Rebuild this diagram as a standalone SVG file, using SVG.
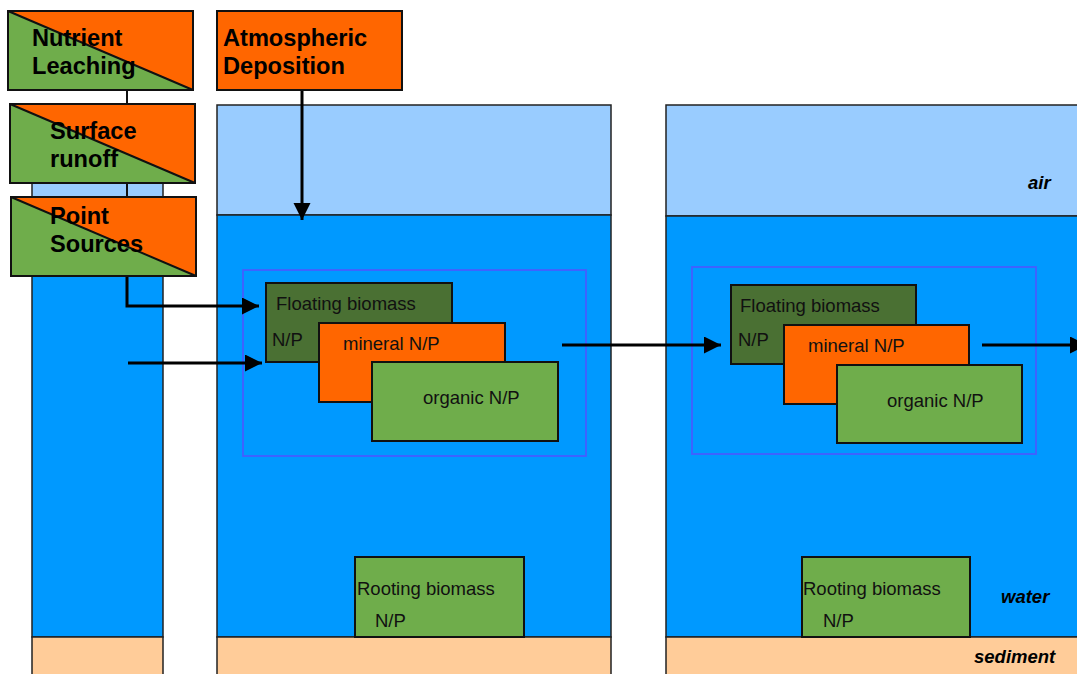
<svg xmlns="http://www.w3.org/2000/svg" width="1077" height="674" viewBox="0 0 1077 674">
<defs>
<style>
.air{fill:#99ccff;stroke:#222;stroke-width:1.5}
.water{fill:#0099ff;stroke:#222;stroke-width:1.5}
.sed{fill:#ffcc99;stroke:#222;stroke-width:1.5}
.inner{fill:none;stroke:#3d63ff;stroke-width:2}
.box{stroke:#111;stroke-width:2}
.dg{fill:#4a7033}
.or{fill:#ff6600}
.gr{fill:#6fad4b}
.t{font-family:"Liberation Sans",Arial,sans-serif;fill:#111}
.big{font-size:23.6px;font-weight:bold;fill:#000}
.mid{font-size:18.5px}
.lab{font-size:18.5px;font-weight:bold;font-style:italic;fill:#000}
.arr{stroke:#000;stroke-width:3;fill:none}
.thin{stroke:#111;stroke-width:2;fill:none}
</style>
<marker id="ah" markerUnits="userSpaceOnUse" markerWidth="18" markerHeight="18" refX="17" refY="8.5" orient="auto">
<path d="M0,0 L17,8.5 L0,17 Z" fill="#000"/>
</marker>
</defs>

<g id="left-column">
<rect class="air" x="32" y="105" width="131" height="110"/>
<rect class="water" x="32" y="215" width="131" height="422"/>
<rect class="sed" x="32" y="637" width="131" height="45"/>
</g>

<g id="compartment-1">
<rect class="air" x="217" y="105" width="394" height="110"/>
<rect class="water" x="217" y="215" width="394" height="422"/>
<rect class="sed" x="217" y="637" width="394" height="45"/>
<rect class="inner" x="243" y="270" width="343" height="186"/>
</g>

<g id="compartment-2">
<rect class="air" x="666" y="105" width="420" height="111"/>
<rect class="water" x="666" y="216" width="420" height="421"/>
<rect class="sed" x="666" y="637" width="420" height="45"/>
<rect class="inner" x="692" y="267" width="344" height="187"/>
<text class="t lab" x="1028" y="189">air</text>
<text class="t lab" x="1001" y="603">water</text>
<text class="t lab" x="974" y="663">sediment</text>
</g>

<g id="connectors">
<line class="thin" x1="127" y1="90" x2="127" y2="104"/>
<line class="thin" x1="127" y1="183" x2="127" y2="197"/>
<path class="arr" d="M127,276 V306 H259" marker-end="url(#ah)"/>
<line class="arr" x1="128" y1="363" x2="262" y2="363" marker-end="url(#ah)"/>
<line class="arr" x1="302" y1="90" x2="302" y2="220" marker-end="url(#ah)"/>
<line class="arr" x1="562" y1="345" x2="721" y2="345" marker-end="url(#ah)"/>
<line class="arr" x1="982" y1="345" x2="1087" y2="345" marker-end="url(#ah)"/>
</g>

<g id="nutrient-leaching">
<polygon class="gr" points="8,11 193,90 8,90"/>
<polygon class="or" points="8,11 193,11 193,90"/>
<rect class="box" x="8" y="11" width="185" height="79" fill="none"/>
<line class="box" x1="8" y1="11" x2="193" y2="90"/>
<text class="t big" x="32" y="46">Nutrient</text>
<text class="t big" x="32" y="74">Leaching</text>
</g>

<g id="surface-runoff">
<polygon class="gr" points="10,104 195,183 10,183"/>
<polygon class="or" points="10,104 195,104 195,183"/>
<rect class="box" x="10" y="104" width="185" height="79" fill="none"/>
<line class="box" x1="10" y1="104" x2="195" y2="183"/>
<text class="t big" x="50" y="139">Surface</text>
<text class="t big" x="50" y="167">runoff</text>
</g>

<g id="point-sources">
<polygon class="gr" points="11,197 196,276 11,276"/>
<polygon class="or" points="11,197 196,197 196,276"/>
<rect class="box" x="11" y="197" width="185" height="79" fill="none"/>
<line class="box" x1="11" y1="197" x2="196" y2="276"/>
<text class="t big" x="50" y="224">Point</text>
<text class="t big" x="50" y="252">Sources</text>
</g>

<g id="atmospheric-deposition">
<rect class="box or" x="217" y="11" width="185" height="79"/>
<text class="t big" x="223" y="46">Atmospheric</text>
<text class="t big" x="223" y="74">Deposition</text>
</g>

<g id="floating-1">
<rect class="box dg" x="266" y="283" width="186" height="79"/>
<text class="t mid" x="276" y="310">Floating biomass</text>
<text class="t mid" x="272" y="346">N/P</text>
</g>
<g id="mineral-1">
<rect class="box or" x="319" y="323" width="186" height="79"/>
<text class="t mid" x="343" y="350">mineral N/P</text>
</g>
<g id="organic-1">
<rect class="box gr" x="372" y="362" width="186" height="79"/>
<text class="t mid" x="423" y="404">organic N/P</text>
</g>
<g id="rooting-1">
<rect class="box gr" x="355" y="557" width="169" height="80"/>
<text class="t mid" x="357" y="595">Rooting biomass</text>
<text class="t mid" x="375" y="627">N/P</text>
</g>

<g id="floating-2">
<rect class="box dg" x="731" y="285" width="185" height="79"/>
<text class="t mid" x="740" y="312">Floating biomass</text>
<text class="t mid" x="738" y="346">N/P</text>
</g>
<g id="mineral-2">
<rect class="box or" x="784" y="325" width="185" height="79"/>
<text class="t mid" x="808" y="352">mineral N/P</text>
</g>
<g id="organic-2">
<rect class="box gr" x="837" y="365" width="185" height="78"/>
<text class="t mid" x="887" y="407">organic N/P</text>
</g>
<g id="rooting-2">
<rect class="box gr" x="802" y="557" width="168" height="80"/>
<text class="t mid" x="803" y="595">Rooting biomass</text>
<text class="t mid" x="823" y="627">N/P</text>
</g>
</svg>
